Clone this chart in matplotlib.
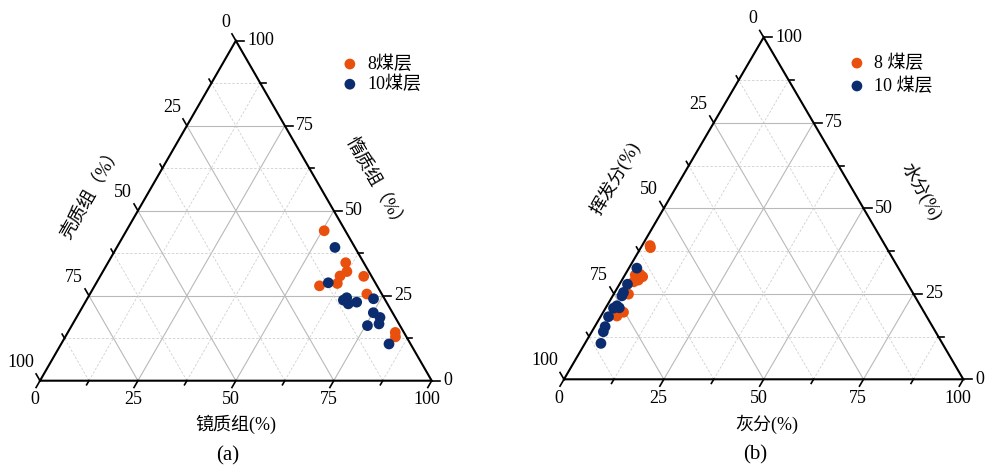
import numpy as np
import matplotlib
matplotlib.use('Agg')
import matplotlib.pyplot as plt

plt.rcParams['font.family'] = ['Liberation Serif', 'Noto Sans CJK SC']

ORANGE = '#E9500E'
NAVY = '#0B2D6F'

# panel (a): maceral composition (%)
vit_8 = [50.5, 60.7, 62.3, 61.2, 61.6, 57.4, 67.3, 70.7, 83.6, 84.3]
ine_8 = [44.1, 34.7, 32.1, 30.8, 28.6, 27.9, 30.7, 25.5, 14.2, 12.9]
exi_8 = [5.4, 4.6, 5.6, 8.0, 9.8, 14.7, 2.0, 3.8, 2.2, 2.8]

vit_10 = [55.7, 59.2, 65.6, 66.1, 67.4, 69.3, 73.1, 75.1, 77.5, 78.2, 75.5, 83.7]
ine_10 = [39.2, 28.8, 23.7, 24.4, 22.6, 23.1, 24.1, 20.0, 18.6, 16.7, 16.2, 10.8]
exi_10 = [5.1, 12.0, 10.7, 9.5, 10.0, 7.6, 2.8, 4.9, 3.9, 5.1, 8.3, 5.5]

# panel (b): proximate analysis (%)
ash_8 = [2.0, 2.4, 2.6, 3.7, 4.7, 4.1, 3.2, 3.7, 5.1, 4.0]
moist_8 = [39.1, 38.5, 30.5, 30.7, 30.0, 29.0, 28.5, 24.9, 19.6, 18.5]
vol_8 = [58.9, 59.1, 66.9, 65.6, 65.3, 66.9, 68.3, 71.4, 75.3, 77.5]

ash_10 = [2.0, 2.0, 2.2, 2.3, 2.5, 2.0, 3.4, 2.0, 2.6, 2.9, 4.0]
moist_10 = [32.5, 27.8, 25.4, 24.4, 21.5, 20.8, 20.9, 18.3, 15.4, 13.9, 10.5]
vol_10 = [65.5, 70.2, 72.4, 73.3, 76.0, 77.2, 75.7, 79.7, 82.0, 83.2, 85.5]

tick_vals = [0, 25, 50, 75, 100]
H = np.sqrt(3) / 2


def to_xy(bottom, right, left):
    # bottom -> lower right vertex, right -> top vertex, left -> lower left vertex
    b = np.asarray(bottom, float)
    r = np.asarray(right, float)
    l = np.asarray(left, float)
    s = b + r + l
    b, r = b / s * 100, r / s * 100
    return b + r / 2, r * H


def draw_frame(ax, bottom_title, right_title, left_title, tag, title_pos):
    ax.set_xlim(0, 100)
    ax.set_ylim(0, 100 * H)
    ax.axis('off')

    # grid
    for c in np.arange(12.5, 100, 12.5):
        major = c % 25 == 0
        kw = dict(color='#b9b9b9' if major else '#d0d0d0',
                  lw=0.8 if major else 0.6,
                  ls='-' if major else (0, (3, 2)), zorder=1)
        # constant right-axis value (horizontal)
        x, y = to_xy([0, 100 - c], [c, c], [100 - c, 0])
        ax.plot(x, y, **kw)
        # constant bottom-axis value
        x, y = to_xy([c, c], [0, 100 - c], [100 - c, 0])
        ax.plot(x, y, **kw)
        # constant left-axis value
        x, y = to_xy([100 - c, 0], [0, 100 - c], [c, c])
        ax.plot(x, y, **kw)

    ax.plot([0, 100, 50, 0], [0, 0, 100 * H, 0], color='black', lw=1.5,
            zorder=3, clip_on=False, solid_joinstyle='miter')

    d240 = np.array([-0.5, -H])
    d120 = np.array([-0.5, H])
    for t in np.arange(0, 100.1, 12.5):
        ln = 2.0 if t % 25 == 0 else 1.2
        # bottom axis
        x, y = to_xy([t], [0], [100 - t])
        ax.plot([x[0], x[0] + d240[0] * ln], [y[0], y[0] + d240[1] * ln],
                color='black', lw=1.2, clip_on=False, zorder=3)
        # right axis
        x, y = to_xy([100 - t], [t], [0])
        ax.plot([x[0], x[0] + ln * 1.1], [y[0], y[0]],
                color='black', lw=1.2, clip_on=False, zorder=3)
        # left axis
        x, y = to_xy([0], [100 - t], [t])
        ax.plot([x[0], x[0] + d120[0] * ln], [y[0], y[0] + d120[1] * ln],
                color='black', lw=1.2, clip_on=False, zorder=3)

    for t in tick_vals:
        x, y = to_xy([t], [0], [100 - t])
        ax.text(x[0] - 1.3, y[0] - 4.8, str(t), ha='center', va='center',
                fontsize=13)
        x, y = to_xy([100 - t], [t], [0])
        ax.text(x[0] + 2.9, y[0], str(t), ha='left', va='center', fontsize=13)
        x, y = to_xy([0], [100 - t], [t])
        ax.text(x[0] - 1.5, y[0] + 4.7, str(t), ha='right', va='center',
                fontsize=13)

    (bx, by), (rx, ry), (lx, ly) = title_pos
    ax.text(bx, by, bottom_title, ha='center', va='center', fontsize=13)
    ax.text(rx, ry, right_title, ha='center', va='center', fontsize=13,
            rotation=-60, rotation_mode='anchor')
    ax.text(lx, ly, left_title, ha='center', va='center', fontsize=13,
            rotation=60, rotation_mode='anchor')
    ax.text(48, -19.2, tag, ha='center', va='center', fontsize=15)


fig = plt.figure(figsize=(9.85, 4.65), dpi=100)

ax_a = fig.add_axes([40 / 985, (465 - 380.7) / 465, 391.7 / 985, 340 / 465])
draw_frame(ax_a, '镜质组(%)', '惰质组（%）', '壳质组（%）', '(a)',
           [(50, -11.2), (85.5, 50.0), (13.3, 47.9)])
x, y = to_xy(vit_8, ine_8, exi_8)
ax_a.scatter(x, y, s=60, color=ORANGE, edgecolors='none', zorder=4,
             clip_on=False, label='8煤层')
x, y = to_xy(vit_10, ine_10, exi_10)
ax_a.scatter(x, y, s=60, color=NAVY, edgecolors='none', zorder=5,
             clip_on=False, label='10煤层')
ax_a.legend(loc='upper left', bbox_to_anchor=(0.768, 0.957), frameon=False,
            fontsize=13, handlelength=1.0, handletextpad=0.45,
            labelspacing=0.15, borderpad=0, borderaxespad=0, scatterpoints=1)

ax_b = fig.add_axes([564 / 985, (465 - 379.3) / 465, 399.3 / 985, 342 / 465])
draw_frame(ax_b, '灰分(%)', '水分(%)', '挥发分(%)', '(b)',
           [(50.8, -11.3), (89.5, 47.6), (12.8, 51.0)])
x, y = to_xy(ash_8, moist_8, vol_8)
ax_b.scatter(x, y, s=60, color=ORANGE, edgecolors='none', zorder=4,
             clip_on=False, label='8 煤层')
x, y = to_xy(ash_10, moist_10, vol_10)
ax_b.scatter(x, y, s=60, color=NAVY, edgecolors='none', zorder=5,
             clip_on=False, label='10 煤层')
ax_b.legend(loc='upper left', bbox_to_anchor=(0.711, 0.95), frameon=False,
            fontsize=13, handlelength=1.0, handletextpad=0.45,
            labelspacing=0.3, borderpad=0, borderaxespad=0, scatterpoints=1)

fig.savefig('out.png', dpi=100)
